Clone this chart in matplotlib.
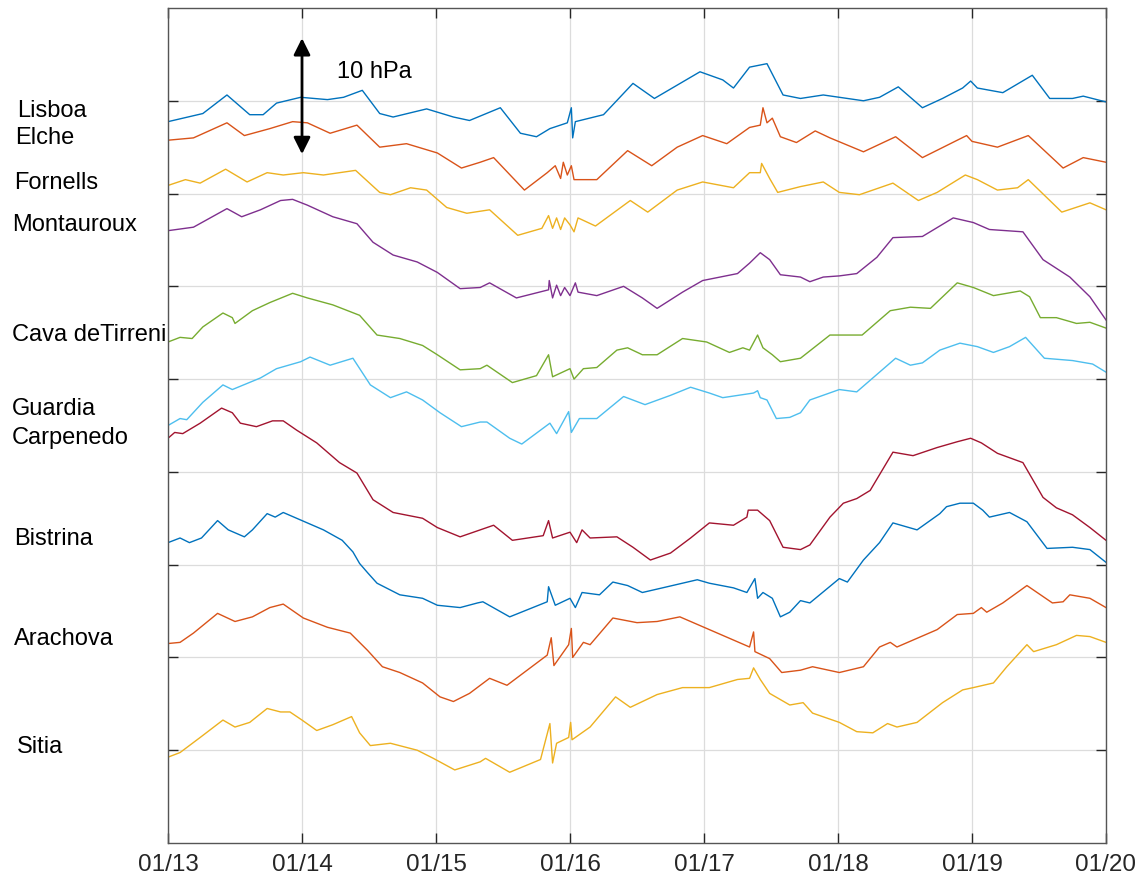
import numpy as np
import matplotlib
matplotlib.use("Agg")
import matplotlib.pyplot as plt

plt.rcParams['font.family'] = ['Liberation Sans', 'DejaVu Sans']

# time in days since 01/13 00:00, pressure in hPa (stacked with offsets for display)
lisboa_t = [0.00, 0.26, 0.44, 0.61, 0.71, 0.81, 0.99, 1.19, 1.31, 1.45, 1.58, 1.68, 1.93, 2.13, 2.25, 2.48,
            2.63, 2.75, 2.85, 2.98, 3.01, 3.02, 3.04, 3.25, 3.47, 3.63, 3.97, 4.14, 4.22, 4.34, 4.47, 4.59,
            4.72, 4.89, 5.01, 5.19, 5.31, 5.45, 5.63, 5.78, 5.93, 5.99, 6.04, 6.23, 6.45, 6.58, 6.75, 6.83, 7.00]
lisboa_p = [62.2, 62.9, 64.5, 62.8, 62.8, 63.8, 64.3, 64.1, 64.3, 64.9, 62.9, 62.6, 63.3, 62.6, 62.3, 63.4,
            61.2, 60.9, 61.6, 62.1, 63.4, 60.8, 62.2, 62.8, 65.5, 64.2, 66.5, 65.8, 65.1, 66.9, 67.2, 64.5,
            64.2, 64.5, 64.3, 64.0, 64.3, 65.2, 63.4, 64.2, 65.1, 65.7, 65.1, 64.7, 66.2, 64.2, 64.2, 64.4, 63.9]

elche_t = [0.00, 0.19, 0.44, 0.57, 0.76, 0.93, 1.04, 1.21, 1.41, 1.58, 1.78, 2.01, 2.19, 2.33, 2.43, 2.66,
           2.83, 2.89, 2.93, 2.95, 2.98, 3.01, 3.03, 3.20, 3.43, 3.61, 3.80, 3.99, 4.17, 4.34, 4.42, 4.44,
           4.47, 4.51, 4.57, 4.69, 4.83, 4.94, 5.19, 5.43, 5.63, 5.89, 5.96, 6.00, 6.19, 6.42, 6.68, 6.83, 7.00]
elche_p = [60.6, 60.8, 62.1, 61.0, 61.6, 62.2, 62.1, 61.2, 61.9, 60.0, 60.3, 59.5, 58.2, 58.7, 59.1, 56.3,
           57.8, 58.4, 57.3, 58.7, 57.6, 58.4, 57.2, 57.2, 59.7, 58.4, 60.0, 61.0, 60.3, 61.7, 61.9, 63.4,
           62.1, 62.5, 60.9, 60.4, 61.4, 60.8, 59.6, 60.9, 59.1, 60.6, 61.0, 60.5, 60.0, 61.0, 58.2, 59.1, 58.7]

fornells_t = [0.00, 0.13, 0.24, 0.43, 0.59, 0.74, 0.86, 1.01, 1.16, 1.40, 1.58, 1.66, 1.81, 1.93, 2.08, 2.23,
              2.40, 2.61, 2.79, 2.84, 2.87, 2.90, 2.93, 2.96, 3.00, 3.03, 3.06, 3.19, 3.45, 3.58, 3.80, 3.99,
              4.22, 4.34, 4.42, 4.43, 4.49, 4.55, 4.72, 4.89, 5.01, 5.16, 5.41, 5.60, 5.74, 5.95, 6.04, 6.19,
              6.34, 6.42, 6.67, 6.88, 7.00]
fornells_p = [56.7, 57.2, 56.9, 58.1, 57.0, 57.8, 57.6, 57.8, 57.6, 58.0, 56.1, 55.9, 56.5, 56.3, 54.8, 54.3,
              54.6, 52.4, 53.0, 54.1, 53.0, 53.9, 52.9, 53.9, 53.3, 52.7, 53.9, 53.2, 55.4, 54.4, 56.3, 57.0,
              56.5, 57.8, 57.8, 58.6, 57.3, 56.1, 56.6, 57.0, 56.1, 55.9, 56.9, 55.4, 56.1, 57.6, 57.2, 56.3,
              56.5, 57.2, 54.4, 55.2, 54.6]

montauroux_t = [0.00, 0.19, 0.44, 0.55, 0.69, 0.84, 0.93, 1.04, 1.23, 1.41, 1.53, 1.68, 1.86, 2.01, 2.18, 2.33,
                2.40, 2.60, 2.84, 2.845, 2.87, 2.90, 2.93, 2.96, 3.00, 3.04, 3.06, 3.20, 3.40, 3.54, 3.65, 3.84,
                3.99, 4.25, 4.34, 4.42, 4.49, 4.57, 4.72, 4.79, 4.89, 5.01, 5.14, 5.29, 5.41, 5.63, 5.86, 6.01,
                6.13, 6.38, 6.53, 6.73, 6.88, 7.00]
montauroux_p = [52.8, 53.1, 54.7, 54.0, 54.6, 55.4, 55.5, 55.0, 54.0, 53.4, 51.8, 50.7, 50.1, 49.2, 47.8, 47.9,
                48.3, 47.0, 47.7, 48.5, 47.0, 48.1, 47.2, 47.9, 47.2, 48.3, 47.5, 47.2, 48.0, 47.0, 46.1, 47.5,
                48.5, 49.1, 50.0, 50.9, 50.3, 49.0, 48.8, 48.4, 48.8, 48.9, 49.1, 50.5, 52.2, 52.3, 53.9, 53.5,
                52.9, 52.7, 50.3, 48.8, 47.1, 45.1]

cava_t = [0.00, 0.09, 0.18, 0.26, 0.41, 0.48, 0.50, 0.63, 0.76, 0.93, 1.04, 1.23, 1.43, 1.56, 1.73, 1.90,
          2.01, 2.18, 2.33, 2.38, 2.57, 2.75, 2.84, 2.87, 3.00, 3.03, 3.10, 3.20, 3.35, 3.43, 3.54, 3.65,
          3.84, 4.02, 4.19, 4.29, 4.34, 4.40, 4.44, 4.51, 4.57, 4.72, 4.94, 5.18, 5.39, 5.54, 5.69, 5.89,
          6.01, 6.16, 6.36, 6.43, 6.51, 6.63, 6.78, 6.88, 7.00]
cava_p = [43.2, 43.6, 43.5, 44.5, 45.7, 45.3, 44.8, 45.9, 46.6, 47.4, 47.0, 46.4, 45.5, 43.8, 43.5, 42.9,
          42.1, 40.8, 40.9, 41.2, 39.7, 40.3, 42.1, 40.2, 40.9, 40.0, 40.9, 41.0, 42.5, 42.7, 42.1, 42.1,
          43.5, 43.2, 42.3, 42.7, 42.5, 43.8, 42.7, 42.1, 41.5, 41.8, 43.8, 43.8, 45.9, 46.2, 46.1, 48.3,
          47.9, 47.2, 47.6, 47.1, 45.3, 45.3, 44.8, 44.9, 44.4]

guardia_t = [0.00, 0.09, 0.14, 0.26, 0.41, 0.48, 0.69, 0.81, 0.99, 1.06, 1.21, 1.38, 1.51, 1.66, 1.78, 1.90,
             2.03, 2.19, 2.33, 2.38, 2.55, 2.64, 2.85, 2.90, 2.99, 3.01, 3.07, 3.20, 3.40, 3.56, 3.75, 3.90,
             4.04, 4.14, 4.37, 4.40, 4.42, 4.47, 4.54, 4.64, 4.72, 4.79, 5.01, 5.14, 5.24, 5.43, 5.54, 5.63,
             5.76, 5.91, 6.04, 6.16, 6.28, 6.40, 6.54, 6.75, 6.90, 7.00]
guardia_p = [36.0, 36.6, 36.5, 38.0, 39.5, 39.1, 40.1, 40.9, 41.5, 41.9, 41.2, 41.8, 39.5, 38.4, 38.9, 38.2,
             37.1, 35.9, 36.3, 36.3, 34.9, 34.4, 36.2, 35.3, 37.2, 35.4, 36.6, 36.6, 38.5, 37.8, 38.6, 39.3,
             38.8, 38.4, 38.8, 39.0, 38.4, 38.2, 36.6, 36.7, 37.1, 38.2, 39.1, 38.9, 39.9, 41.8, 41.2, 41.4,
             42.5, 43.1, 42.8, 42.3, 42.8, 43.6, 41.8, 41.6, 41.3, 40.6]

carpenedo_t = [0.00, 0.05, 0.11, 0.24, 0.40, 0.48, 0.54, 0.66, 0.78, 0.86, 0.96, 1.11, 1.28, 1.41, 1.53, 1.68,
               1.90, 2.01, 2.18, 2.33, 2.43, 2.57, 2.80, 2.84, 2.87, 3.00, 3.05, 3.09, 3.15, 3.35, 3.47, 3.60,
               3.75, 3.90, 4.04, 4.22, 4.32, 4.33, 4.40, 4.49, 4.59, 4.72, 4.79, 4.94, 5.04, 5.14, 5.24, 5.41,
               5.56, 5.74, 5.89, 5.99, 6.07, 6.19, 6.38, 6.53, 6.63, 6.75, 6.88, 7.00]
carpenedo_p = [34.9, 35.4, 35.3, 36.2, 37.5, 37.1, 36.2, 35.9, 36.4, 36.4, 35.6, 34.5, 32.8, 31.9, 29.6, 28.5,
               28.0, 27.2, 26.4, 27.0, 27.4, 26.1, 26.5, 27.8, 26.3, 26.8, 25.9, 27.0, 26.3, 26.4, 25.5, 24.4,
               25.0, 26.3, 27.6, 27.4, 28.1, 28.7, 28.7, 27.8, 25.5, 25.3, 25.7, 28.1, 29.3, 29.7, 30.4, 33.7,
               33.4, 34.1, 34.6, 34.9, 34.5, 33.6, 32.8, 29.8, 28.9, 28.3, 27.2, 26.1]

bistrina_t = [0.00, 0.09, 0.16, 0.25, 0.37, 0.45, 0.57, 0.63, 0.74, 0.80, 0.86, 0.96, 1.04, 1.16, 1.30, 1.38,
              1.43, 1.49, 1.56, 1.73, 1.90, 2.01, 2.18, 2.31, 2.35, 2.55, 2.83, 2.84, 2.89, 3.00, 3.04, 3.09,
              3.22, 3.32, 3.43, 3.54, 3.69, 3.95, 4.04, 4.22, 4.32, 4.38, 4.40, 4.44, 4.51, 4.57, 4.64, 4.72,
              4.79, 5.01, 5.07, 5.19, 5.31, 5.41, 5.59, 5.76, 5.81, 5.91, 6.01, 6.08, 6.13, 6.28, 6.41, 6.56,
              6.75, 6.88, 7.00]
bistrina_p = [25.9, 26.3, 25.9, 26.3, 27.8, 27.0, 26.4, 27.0, 28.4, 28.1, 28.5, 28.0, 27.6, 27.0, 26.1, 25.1,
              24.1, 23.3, 22.4, 21.4, 21.1, 20.5, 20.3, 20.7, 20.8, 19.5, 20.8, 22.1, 20.5, 21.1, 20.3, 21.6,
              21.4, 22.5, 22.2, 21.6, 22.0, 22.7, 22.4, 22.0, 21.6, 22.8, 21.1, 21.6, 21.1, 19.5, 19.9, 20.9,
              20.7, 22.8, 22.5, 24.4, 25.9, 27.6, 27.0, 28.4, 29.0, 29.3, 29.3, 28.7, 28.1, 28.5, 27.7, 25.4,
              25.5, 25.3, 24.2]

arachova_t = [0.00, 0.09, 0.19, 0.37, 0.50, 0.63, 0.76, 0.86, 1.01, 1.19, 1.36, 1.49, 1.60, 1.73, 1.90, 2.03,
              2.13, 2.25, 2.40, 2.53, 2.83, 2.86, 2.88, 2.99, 3.01, 3.02, 3.10, 3.15, 3.32, 3.50, 3.65, 3.82,
              4.02, 4.22, 4.34, 4.37, 4.38, 4.49, 4.58, 4.72, 4.81, 4.89, 5.01, 5.19, 5.31, 5.39, 5.44, 5.56,
              5.74, 5.89, 6.01, 6.07, 6.11, 6.23, 6.41, 6.60, 6.68, 6.73, 6.88, 7.00]
arachova_p = [17.2, 17.3, 18.1, 19.8, 19.1, 19.5, 20.3, 20.6, 19.4, 18.6, 18.1, 16.6, 15.2, 14.7, 13.8, 12.6,
              12.2, 12.9, 14.2, 13.6, 16.2, 17.7, 15.3, 17.1, 18.5, 16.0, 17.3, 17.1, 19.4, 19.0, 19.1, 19.5,
              18.5, 17.5, 16.9, 18.2, 16.5, 15.9, 14.7, 14.9, 15.2, 15.0, 14.7, 15.2, 16.9, 17.3, 16.9, 17.5,
              18.4, 19.7, 19.8, 20.3, 19.9, 20.7, 22.2, 20.7, 20.8, 21.4, 21.1, 20.3]

sitia_t = [0.00, 0.09, 0.24, 0.41, 0.50, 0.61, 0.74, 0.84, 0.91, 1.00, 1.11, 1.23, 1.37, 1.43, 1.51, 1.66,
           1.86, 1.98, 2.14, 2.33, 2.37, 2.55, 2.78, 2.85, 2.87, 2.90, 2.99, 3.005, 3.015, 3.15, 3.34, 3.45,
           3.65, 3.84, 4.04, 4.25, 4.34, 4.37, 4.42, 4.49, 4.64, 4.74, 4.81, 5.01, 5.14, 5.26, 5.37, 5.44,
           5.59, 5.78, 5.93, 6.01, 6.16, 6.26, 6.41, 6.46, 6.63, 6.78, 6.88, 7.00]
sitia_p = [7.4, 7.8, 9.1, 10.6, 10.0, 10.4, 11.6, 11.3, 11.3, 10.6, 9.7, 10.2, 10.9, 9.5, 8.4, 8.6,
           8.0, 7.3, 6.3, 7.0, 7.3, 6.1, 7.2, 10.3, 6.9, 8.6, 9.1, 10.4, 8.9, 10.0, 12.6, 11.7,
           12.8, 13.4, 13.4, 14.1, 14.2, 15.1, 14.1, 12.9, 11.9, 12.1, 11.2, 10.4, 9.6, 9.5, 10.3, 10.0,
           10.4, 12.1, 13.2, 13.4, 13.8, 15.2, 17.1, 16.5, 17.1, 17.9, 17.8, 17.3]

day_labels = ['01/13', '01/14', '01/15', '01/16', '01/17', '01/18', '01/19', '01/20']

# station labels: name, label height (hPa on the plot scale)
station_names = ['Lisboa', 'Elche', 'Fornells', 'Montauroux', 'Cava deTirreni', 'Guardia',
                 'Carpenedo', 'Bistrina', 'Arachova', 'Sitia']
label_y = [63.1, 60.8, 56.9, 53.3, 43.8, 37.4, 34.9, 26.2, 17.6, 8.3]
label_x = [17, 15, 14, 12, 12, 12, 12, 14, 14, 17]

matlab_colors = ['#0072BD', '#D95319', '#EDB120', '#7E2F8E', '#77AC30', '#4DBEEE', '#A2142F']

series = [(lisboa_t, lisboa_p), (elche_t, elche_p), (fornells_t, fornells_p),
          (montauroux_t, montauroux_p), (cava_t, cava_p), (guardia_t, guardia_p),
          (carpenedo_t, carpenedo_p), (bistrina_t, bistrina_p), (arachova_t, arachova_p),
          (sitia_t, sitia_p)]

fig = plt.figure(figsize=(11.44, 8.83), dpi=100)
ax = fig.add_axes([168 / 1144, 1 - 843 / 883, (1106 - 168) / 1144, (843 - 8) / 883])

for i, (t, p) in enumerate(series):
    ax.plot(t, p, color=matlab_colors[i % len(matlab_colors)], lw=1.0)

ax.set_xlim(0, 7)
ax.set_ylim(0, 72)
ax.set_xticks(np.arange(8))
ax.set_xticklabels(day_labels, fontsize=17.5, color='#262626')
ax.set_yticks(np.arange(8, 72, 8))
ax.set_yticklabels([])
ax.tick_params(direction='in', length=7, width=1, color='#262626',
               top=True, right=True, pad=8)
ax.grid(True, color='#dcdcdc', lw=0.9)
ax.set_axisbelow(True)
for s in ax.spines.values():
    s.set_color('#555555')
    s.set_linewidth(1.0)

# 10 hPa scale arrow
ax.annotate('', xy=(1.0, 69.4), xytext=(1.0, 59.4),
            arrowprops=dict(arrowstyle='<|-|>', color='black', lw=2, mutation_scale=25,
                            shrinkA=0, shrinkB=0))
ax.text(1.26, 66.5, '10 hPa', fontsize=17, va='center', ha='left')

# station names to the left of the axes
for name, yv, xp in zip(station_names, label_y, label_x):
    yd = ax.transData.transform((0, yv))[1]
    yf = fig.transFigure.inverted().transform((0, yd))[1]
    fig.text(xp / 1144, yf, name, fontsize=17, va='center', ha='left')

fig.savefig('out.png', dpi=100)
